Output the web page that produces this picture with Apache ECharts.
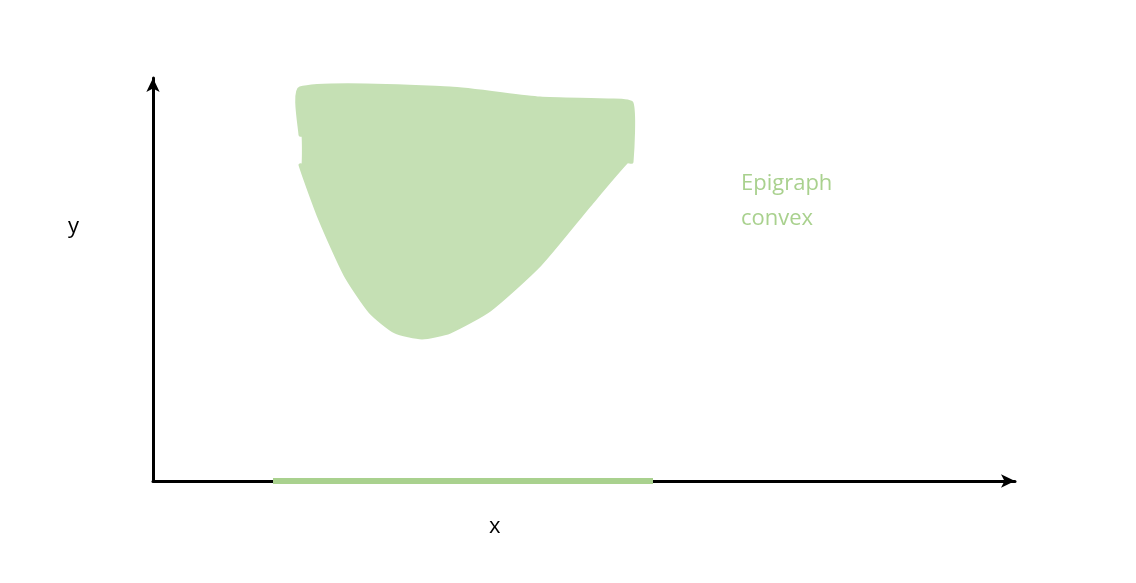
<!DOCTYPE html>
<html>
<head>
<meta charset="utf-8">
<script src="https://cdn.jsdelivr.net/npm/echarts@6/dist/echarts.min.js"></script>
<style>html,body{margin:0;padding:0;background:#fff}#main{width:1136px;height:583px}</style>
</head>
<body>
<div id="main"></div>
<script>
// epigraph outline, lower convex curve (left to right), in axis units
const curveX = [147, 167, 192, 217, 242, 269, 297, 337, 387, 437, 474];
const curveY = [316, 261, 206, 169, 149, 143, 149, 171, 216, 276, 319];
// rough top edge of the shaded region (right to left)
const topX = [479, 479, 457, 387, 297, 147, 147, 150, 150];
const topY = [319, 378, 381, 383, 393, 393, 346, 346, 316];
// domain segment on the x axis
const domainX = [120, 500];

const outline = curveX.map((x, i) => [x, curveY[i]])
  .concat(topX.map((x, i) => [x, topY[i]]));

const green = '#a9d18e';
const fill = '#c5e0b4';

let myChart = echarts.init(document.getElementById('main'));
myChart.setOption({
  animation: false,
  grid: {left: 153, right: 121, top: 78, bottom: 102},
  xAxis: {
    type: 'value', min: 0, max: 862,
    axisLine: {lineStyle: {color: '#000', width: 3}, symbol: ['none', 'arrow'], symbolSize: [10, 14]},
    axisTick: {show: false}, axisLabel: {show: false}, splitLine: {show: false}
  },
  yAxis: {
    type: 'value', min: 0, max: 403,
    axisLine: {show: true, lineStyle: {color: '#000', width: 3}, symbol: ['none', 'arrow'], symbolSize: [10, 14]},
    axisTick: {show: false}, axisLabel: {show: false}, splitLine: {show: false}
  },
  series: [
    {
      type: 'custom',
      renderItem: function (params, api) {
        return {
          type: 'polygon',
          shape: {points: outline.map(p => api.coord(p)), smooth: 0.2},
          style: {fill: fill, stroke: fill, lineWidth: 3}
        };
      },
      data: [0]
    },
    {
      type: 'line', symbol: 'none', z: 5,
      lineStyle: {color: green, width: 6},
      data: domainX.map(x => [x, 0])
    }
  ],
  graphic: [
    {type: 'text', left: 68, top: 216, style: {text: 'y', fontSize: 22, fontFamily: 'Open Sans', fill: '#000'}},
    {type: 'text', left: 489, top: 516, style: {text: 'x', fontSize: 22, fontFamily: 'Open Sans', fill: '#000'}},
    {type: 'text', left: 741, top: 166, style: {text: 'Epigraph\nconvex', fontSize: 22, lineHeight: 35, fontFamily: 'Open Sans', fill: green}}
  ]
});
</script>
</body>
</html>
